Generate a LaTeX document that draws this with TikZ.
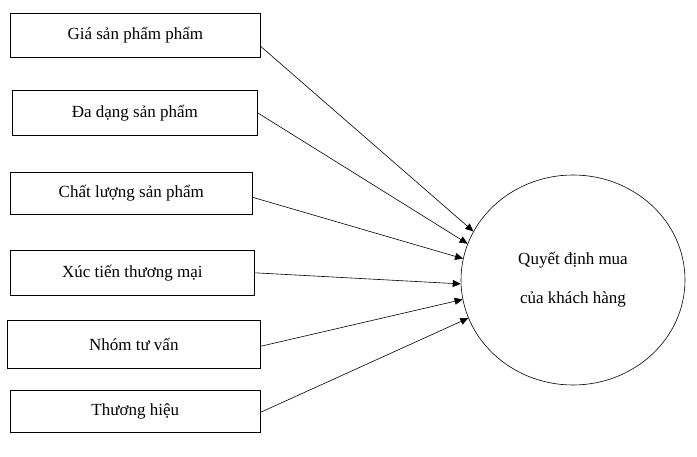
\documentclass[tikz,border=0pt]{standalone}
\usepackage{fontspec}
\setmainfont{Liberation Serif}
\usetikzlibrary{shapes.geometric,arrows.meta}
\tikzset{
	factor/.style={draw,semithick,anchor=north west,inner sep=0pt},
	link/.style={-{Triangle[length=8pt,width=7pt]},semithick},
}
\begin{document}
\begin{tikzpicture}[x=1pt,y=-1pt,font=\fontsize{17}{20}\selectfont]
	\useasboundingbox (0,0) rectangle (697,457);
	% factors..................
	\node [factor,minimum width=250pt,minimum height=44pt] (gia) at (10,13) {Giá sản phẩm phẩm};
	\node [factor,minimum width=245pt,minimum height=45pt] (dadang) at (12,90) {Đa dạng sản phẩm};
	\node [factor,minimum width=242pt,minimum height=42pt] (chatluong) at (10,172) {Chất lượng sản phẩm};
	\node [factor,minimum width=244pt,minimum height=45pt] (xuctien) at (10,250) {Xúc tiến thương mại};
	\node [factor,minimum width=253pt,minimum height=48pt] (nhom) at (7,320) {Nhóm tư vấn};
	\node [factor,minimum width=250pt,minimum height=42pt] (thuonghieu) at (10,390) {Thương hiệu};
	% decision.................
	\node [draw,semithick,ellipse,minimum width=224pt,minimum height=210pt,align=center] (quyetdinh) at (573,280) {Quyết định mua\\[19pt]của khách hàng};
	% arrows...................
	\draw [link] ([yshift=-11pt]gia.east) to (quyetdinh.154);
	\draw [link] (dadang.east) to (quyetdinh.161);
	\draw [link] ([yshift=-4pt]chatluong.east) to (quyetdinh.169);
	\draw [link] (xuctien.east) to (quyetdinh.182);
	\draw [link] ([yshift=-2pt]nhom.east) to (quyetdinh.190);
	\draw [link] ([yshift=-1pt]thuonghieu.east) to (quyetdinh.200);
\end{tikzpicture}
\end{document}
